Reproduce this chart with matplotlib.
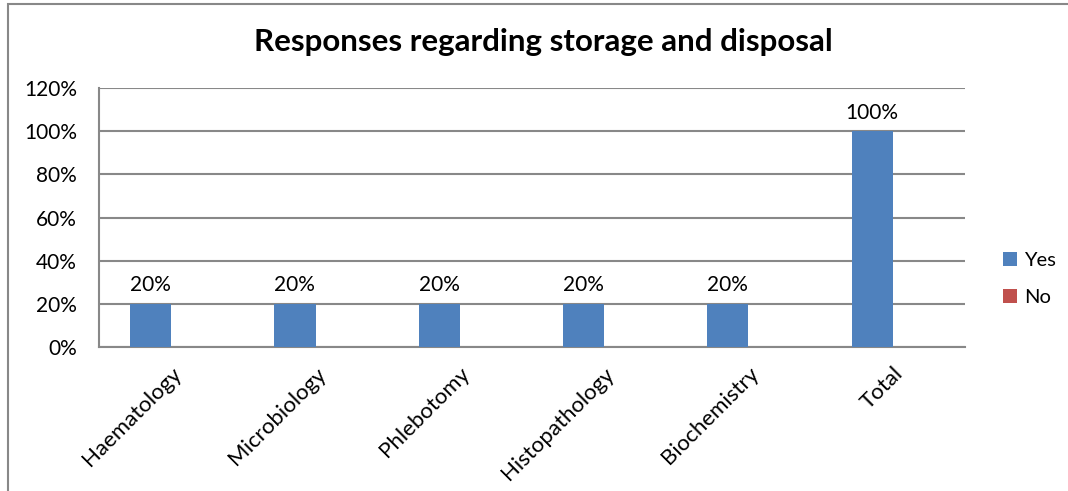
import matplotlib
matplotlib.use('Agg')
import matplotlib.pyplot as plt
from matplotlib.patches import Rectangle
import numpy as np

plt.rcParams['font.family'] = ['Lato', 'DejaVu Sans']

departments = ['Haematology', 'Microbiology', 'Phlebotomy', 'Histopathology', 'Biochemistry', 'Total']
yes_pct = [20, 20, 20, 20, 20, 100]
no_pct = [0, 0, 0, 0, 0, 0]
yticks = [0, 20, 40, 60, 80, 100, 120]

grey = '#888888'
blue = '#4F81BD'
red = '#C0504D'

fig = plt.figure(figsize=(10.68, 4.91), dpi=100)
fig.patches.append(Rectangle((8 / 1068, -0.1), 1.2, 1.1 - 4 / 491, transform=fig.transFigure,
                             fill=False, edgecolor=grey, linewidth=1.5))

ax = fig.add_axes([99 / 1068, 1 - 347 / 491, (965 - 99) / 1068, (347 - 88) / 491])

x = np.arange(len(departments))
w = 1 / 3.5
bars = ax.bar(x - w / 2, yes_pct, w, color=blue, label='Yes', zorder=3)
ax.bar(x + w / 2, no_pct, w, color=red, label='No', zorder=3)

for b, v in zip(bars, yes_pct):
    ax.text(b.get_x() + b.get_width() / 2, v + 4, '{0}%'.format(v),
            ha='center', va='bottom', fontsize=15)

ax.set_xlim(-0.5, len(departments) - 0.5)
ax.set_ylim(0, 120)
ax.set_yticks(yticks)
ax.set_yticklabels(['{0}%'.format(t) for t in yticks], fontsize=15)
ax.set_xticks(x)
ax.set_xticklabels(departments, rotation=45, ha='right', va='top',
                   rotation_mode='anchor', fontsize=16)
ax.tick_params(length=0)
ax.tick_params(axis='y', pad=16)
ax.tick_params(axis='x', pad=12)
for lbl in ax.get_xticklabels():
    lbl.set_x(lbl.get_position()[0])
ax.yaxis.grid(True, color=grey, linewidth=1.5, zorder=0)
for s in ['top', 'right']:
    ax.spines[s].set_visible(False)
for s in ['left', 'bottom']:
    ax.spines[s].set_color(grey)
    ax.spines[s].set_linewidth(1.5)

fig.text(543 / 1068, 1 - 42 / 491, 'Responses regarding storage and disposal',
         ha='center', va='center', fontsize=22.5, fontweight='bold')

fig.legend(loc='center left', bbox_to_anchor=(985 / 1068, 1 - 279 / 491), frameon=False,
           fontsize=14.5, handlelength=0.7, handleheight=0.7, handletextpad=0.35,
           labelspacing=1.0)

fig.savefig('out.png', dpi=100)
